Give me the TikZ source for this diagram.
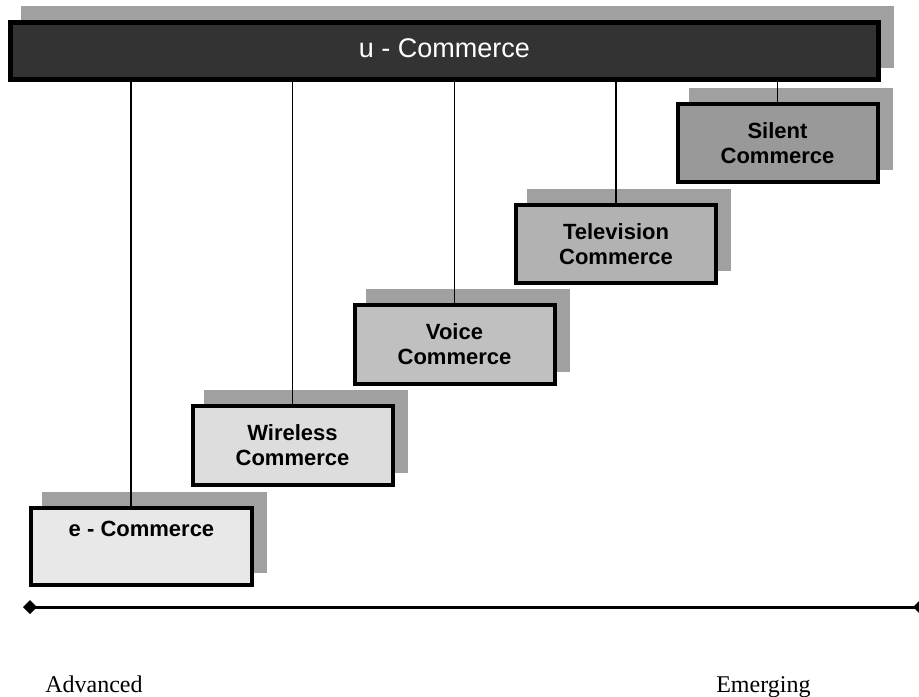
\documentclass[tikz,border=0pt]{standalone}
\usepackage{fontspec}
\setmainfont{Liberation Serif}
\setsansfont{Liberation Sans}
\usepackage{tikz}
\usetikzlibrary{shadows,arrows.meta}

\definecolor{ink}{HTML}{333333}
\definecolor{stipple}{HTML}{A0A0A0}
\definecolor{ecomfill}{HTML}{E8E8E8}
\definecolor{wlessfill}{HTML}{DDDDDD}
\definecolor{voicefill}{HTML}{C0C0C0}
\definecolor{tvfill}{HTML}{B2B2B2}
\definecolor{silentfill}{HTML}{999999}

\begin{document}
\begin{tikzpicture}[x=0.75pt,y=-0.75pt,
    stage/.style={draw,rectangle,line width=3pt,minimum width=150pt,minimum height=59pt,
      align=center,font=\sffamily\bfseries\fontsize{16.5}{18.75}\selectfont,
      copy shadow={shadow xshift=9.75pt,shadow yshift=10.5pt,opacity=1,fill=stipple,draw=stipple}},
    topbar/.style={stage,fill=ink,text=white,line width=3.75pt,
      font=\sffamily\fontsize{20.25}{22}\selectfont,
      minimum width=651pt,minimum height=43pt,text depth=4.5pt},
    link/.style={line width=1.1pt},
    era/.style={anchor=base west,inner sep=0pt,font=\fontsize{18}{20}\selectfont}]
  \useasboundingbox (0,0) rectangle (919,696);

  % stages
  \draw (444.5,51) node [topbar] (ucom) {u - Commerce};
  \draw (777.5,143) node [stage,fill=silentfill] (silent) {Silent\\Commerce};
  \draw (616,244) node [stage,fill=tvfill] (tv) {Television\\Commerce};
  \draw (454.5,344.5) node [stage,fill=voicefill] (voice) {Voice\\Commerce};
  \draw (292.5,445.5) node [stage,fill=wlessfill] (wless) {Wireless\\Commerce};
  \draw (141.5,546.5) node [stage,fill=ecomfill,minimum width=165.75pt,minimum height=57.75pt,
    text height=12pt,text depth=27.75pt] (ecom) {e - Commerce};

  % links up to u-Commerce
  \path (ecom.north) ++(-10.5,0) coordinate (ecomtop);
  \draw[link]
    (ecomtop) -- (ecomtop |- ucom.south)
    (wless.north) -- (wless.north |- ucom.south)
    (voice.north) -- (voice.north |- ucom.south)
    (tv.north) -- (tv.north |- ucom.south)
    (silent.north) -- (silent.north |- ucom.south);

  % time axis
  \coordinate (early) at (23,607);
  \coordinate (late) at (927,607);
  \draw[line width=2.25pt,{Diamond[length=10.5pt,width=10.5pt]}-{Diamond[length=10.5pt,width=10.5pt]}]
    (early) -- (late);
  \node[era] (adv) at (45,692) {Advanced};
  \node[era] (emg) at (716,692) {Emerging};
\end{tikzpicture}
\end{document}
